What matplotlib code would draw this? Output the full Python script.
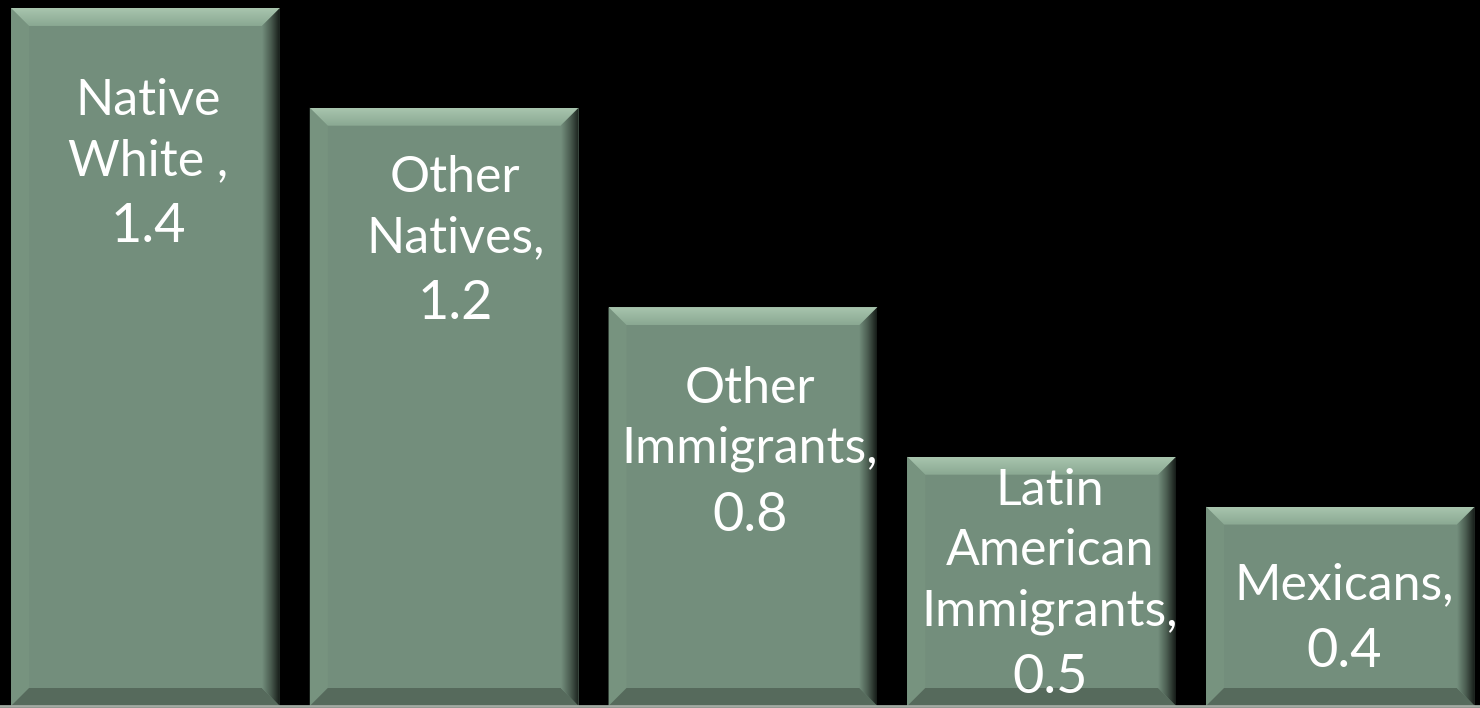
import matplotlib.pyplot as plt
import numpy as np
from matplotlib.patches import Polygon
from matplotlib.colors import LinearSegmentedColormap

# ---------------- Data ---------------- #
groups = ["Native\nWhite ", "Other\nNatives", "Other\nImmigrants",
          "Latin\nAmerican\nImmigrants", "Mexicans"]
values = [1.4, 1.2, 0.8, 0.5, 0.4]

# name block centre, in pixels below each bar top
name_drop = [123, 100, 112, 95, 79]
label_shift = [3, 11, 7, 8, 4]   # small horizontal nudges, pixels
LINE_PX = 60     # distance between name lines
NUM_GAP = 66     # last name line -> value line

FACE = "#738e7c"
LEFT = "#77937f"
BOTTOM = "#566a5c"

W, H, DPI = 1480, 708, 100
XLIM = (-0.487, 4.467)
YLIM = (-0.004, 1.416)

fig = plt.figure(figsize=(W / DPI, H / DPI), dpi=DPI, facecolor="black")
ax = fig.add_axes([0, 0, 1, 1])
ax.set_facecolor("black")
ax.set_xlim(*XLIM)
ax.set_ylim(*YLIM)
ax.axis("off")

# pixel -> data unit conversions
px_x = (XLIM[1] - XLIM[0]) / W
px_y = (YLIM[1] - YLIM[0]) / H

x = np.arange(len(values))
bars = ax.bar(x, values, width=0.9, color=FACE, zorder=2)

edge_cmap = LinearSegmentedColormap.from_list("edge", [FACE, "#4a5c50", "#161c18"])
top_cmap = LinearSegmentedColormap.from_list("top", ["#8aa892", "#a8c5ae"])


def shaded(ax, pts, cmap, horizontal):
    poly = Polygon(pts, closed=True, fc="none", ec="none", zorder=3)
    ax.add_patch(poly)
    xs = [p[0] for p in pts]
    ys = [p[1] for p in pts]
    grad = np.linspace(0, 1, 64)
    grad = grad.reshape(1, -1) if horizontal else grad.reshape(-1, 1)
    im = ax.imshow(grad, cmap=cmap, extent=[min(xs), max(xs), min(ys), max(ys)],
                   origin="lower", aspect="auto", zorder=3, interpolation="bilinear")
    im.set_clip_path(poly)


def bevel(ax, rect, b=18):
    x0, y0 = rect.get_x(), rect.get_y()
    x1, y1 = x0 + rect.get_width(), y0 + rect.get_height()
    bx, by = b * px_x, b * px_y
    # left edge
    ax.add_patch(Polygon([(x0, y0), (x0, y1), (x0 + bx, y1 - by), (x0 + bx, y0 + by)],
                         closed=True, fc=LEFT, ec="none", zorder=3))
    # bottom edge
    ax.add_patch(Polygon([(x0, y0), (x1, y0), (x1 - bx, y0 + by), (x0 + bx, y0 + by)],
                         closed=True, fc=BOTTOM, ec="none", zorder=3))
    # top edge, light, brightest at the rim
    shaded(ax, [(x0, y1), (x1, y1), (x1 - bx, y1 - by), (x0 + bx, y1 - by)],
           top_cmap, horizontal=False)
    # right edge, darkening towards the outside
    shaded(ax, [(x1, y0), (x1, y1), (x1 - bx, y1 - by), (x1 - bx, y0 + by)],
           edge_cmap, horizontal=True)


for rect in bars:
    bevel(ax, rect)

# baseline
ax.axhline(0, color="#a3aba3", lw=2, zorder=4)

font = ["Lato", "DejaVu Sans"]
for xi, name, v, drop, dx in zip(x, groups, values, name_drop, label_shift):
    tx = xi + dx * px_x
    ax.text(tx, v - drop * px_y, name + ",",
            ha="center", va="center", color="white", fontsize=36,
            family=font, linespacing=1.38, zorder=5)
    n_lines = name.count("\n") + 1
    last_line = drop + (n_lines - 1) / 2 * LINE_PX
    ax.text(tx, v - (last_line + NUM_GAP) * px_y, f"{v}",
            ha="center", va="center", color="white", fontsize=39,
            family=font, zorder=5)

ax.set_xlim(*XLIM)
ax.set_ylim(*YLIM)
fig.savefig("out.png", dpi=DPI, facecolor="black")
